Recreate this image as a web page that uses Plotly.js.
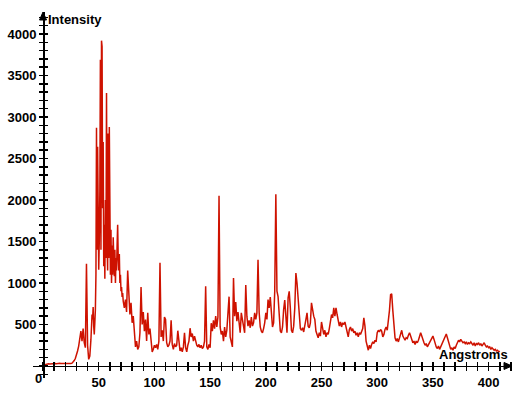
<!DOCTYPE html>
<html>
<head>
<meta charset="utf-8">
<script src="https://cdn.plot.ly/plotly-3.0.1.min.js"></script>
<style>
html,body{margin:0;padding:0;background:#fff;}
#chart{width:527px;height:395px;}
</style>
</head>
<body>
<div id="chart"></div>
<script>
// Intensity readings, segment 1: 0..44 Å, step 1
var lowStart = 0, lowStep = 1;
var intensityLow = [
  10,15,20,22,25,26,24,27,25,28,
  27,30,28,31,29,32,30,29,28,27,
  26,25,24,26,28,30,34,48,65,90,
  130,180,240,330,420,300,450,280,220,1230,
  250,80,120,320,620
];
// Segment 2: 44.5..72 Å, step 0.5 (dense main peak)
var peakStart = 44.5, peakStep = 0.5;
var intensityPeak = [
  560,710,480,380,520,680,1100,2870,1400,2640,
  1900,1160,1500,2100,3690,1400,3920,3850,1900,2700,
  1200,1700,1050,2000,1300,3290,1500,1150,2800,1300,
  2880,1400,1100,1640,1000,1450,1100,1550,1250,1080,
  1400,1000,1300,1150,1450,1700,1300,1150,1350,1000,
  1100,900,950,830,880,780
];
// Segment 3: 73..410 Å, step 1
var highStart = 73, highStep = 1;
var intensityHigh = [
  700,800,650,1150,750,620,760,520,600,350,
  230,300,200,230,400,950,500,650,420,560,
  300,640,380,450,280,170,200,250,220,260,
  200,300,1245,350,430,300,590,560,280,230,
  250,300,550,260,200,270,230,250,425,250,
  180,220,170,230,400,220,170,250,300,455,
  350,390,300,360,280,250,230,260,220,250,
  210,230,300,960,230,200,260,220,515,420,
  550,450,600,470,590,2050,470,380,420,300,
  470,350,430,600,835,350,270,230,1060,600,
  770,540,650,480,400,640,550,450,400,975,
  600,480,550,460,590,480,520,640,560,640,
  1280,650,470,420,400,450,520,640,560,800,
  700,830,590,470,520,900,2070,900,835,550,
  420,400,470,680,795,600,400,820,900,700,
  430,400,480,700,1120,1000,835,600,450,430,
  460,410,470,560,640,480,460,520,760,640,
  600,560,420,380,340,400,360,530,420,380,
  430,350,400,380,450,520,620,580,700,600,
  700,620,550,480,530,470,520,500,530,460,
  420,350,440,470,420,450,400,420,370,400,
  350,400,380,420,450,580,480,300,220,190,
  250,210,260,290,270,310,290,400,430,410,
  440,420,350,380,440,470,430,520,670,860,
  870,670,470,340,300,330,290,340,380,430,
  360,330,310,340,330,370,400,360,320,280,
  300,260,300,280,310,350,400,360,300,280,
  250,270,230,260,280,300,330,360,320,260,
  230,210,240,200,230,250,280,310,350,385,
  340,280,240,200,220,190,230,210,250,280,
  310,290,320,300,280,290,270,290,260,280,
  270,290,260,250,280,240,270,260,280,250,
  270,240,260,280,250,230,240,220,230,200,
  220,210,190,200,180,190,170,180
];
var xTickVals = [50,100,150,200,250,300,350,400];
var yTickVals = [500,1000,1500,2000,2500,3000,3500,4000];
var xTitle = 'Angstroms';
var yTitle = 'Intensity';
var originLabel = '0';

var angstroms = [], intensity = [];
function addSeg(start, step, vals){
  for (var i=0;i<vals.length;i++){ angstroms.push(start + i*step); intensity.push(vals[i]); }
}
addSeg(lowStart, lowStep, intensityLow);
addSeg(peakStart, peakStep, intensityPeak);
addSeg(highStart, highStep, intensityHigh);

var xRange = [-9, 421];
var yRange = [-145, 4265];
var x0frac = (0 - xRange[0])/(xRange[1]-xRange[0]);
var y0frac = (0 - yRange[0])/(yRange[1]-yRange[0]);

var tickFont = {family:'Liberation Sans, Arial, sans-serif', size:13, color:'#000', weight:'bold'};

var traces = [
  {x: angstroms, y: intensity, type:'scatter', mode:'lines',
   line:{color:'rgb(206,18,0)', width:1.5}, hoverinfo:'skip', xaxis:'x', yaxis:'y'},
  {x: [], y: [], type:'scatter', mode:'lines', xaxis:'x2', yaxis:'y2', showlegend:false}
];

var baseX = {range:xRange, anchor:'free', position:y0frac, showgrid:false, zeroline:false,
  tickmode:'array', tickvals:xTickVals, ticklen:4, tickwidth:1.5, tickcolor:'#000'};
var baseY = {range:yRange, anchor:'free', position:x0frac, showgrid:false, zeroline:false,
  tickmode:'array', tickvals:yTickVals, ticklen:4, tickwidth:1.5, tickcolor:'#000'};

var layout = {
  width:527, height:395,
  margin:{l:33, r:15, t:12, b:17},
  paper_bgcolor:'#fff', plot_bgcolor:'#fff',
  showlegend:false,
  xaxis: Object.assign({}, baseX, {
    ticks:'outside', showline:true, linecolor:'#000', linewidth:1.5,
    tickfont:tickFont, showticklabels:true,
    minor:{ticks:'outside', tick0:0, dtick:10, ticklen:4, tickwidth:1.5, tickcolor:'#000', showgrid:false}
  }),
  xaxis2: Object.assign({}, baseX, {
    overlaying:'x', ticks:'inside', showline:false, showticklabels:false,
    minor:{ticks:'inside', tick0:0, dtick:10, ticklen:4, tickwidth:1.5, tickcolor:'#000', showgrid:false}
  }),
  yaxis: Object.assign({}, baseY, {
    ticks:'outside', showline:true, linecolor:'#000', linewidth:1.5,
    tickfont:tickFont, showticklabels:true,
    minor:{ticks:'outside', tick0:0, dtick:100, ticklen:4, tickwidth:1.5, tickcolor:'#000', showgrid:false}
  }),
  yaxis2: Object.assign({}, baseY, {
    overlaying:'y', ticks:'inside', showline:false, showticklabels:false,
    minor:{ticks:'inside', tick0:0, dtick:100, ticklen:4, tickwidth:1.5, tickcolor:'#000', showgrid:false}
  }),
  shapes:[
    {type:'path', xref:'paper', yref:'paper', xsizemode:'pixel', ysizemode:'pixel',
     xanchor:x0frac, yanchor:1, path:'M -3.5 -8 L 3.5 -8 L 0 0 Z',
     fillcolor:'#000', line:{color:'#000', width:1}},
    {type:'path', xref:'paper', yref:'paper', xsizemode:'pixel', ysizemode:'pixel',
     xanchor:1, yanchor:y0frac, path:'M -8 -3.5 L -8 3.5 L 0 0 Z',
     fillcolor:'#000', line:{color:'#000', width:1}}
  ],
  annotations:[
    {text:yTitle, xref:'x', yref:'paper', x:0, y:1, xanchor:'left', yanchor:'middle',
     xshift:3, yshift:-7, showarrow:false, font:tickFont},
    {text:xTitle, xref:'paper', yref:'y', x:1, y:0, xanchor:'right', yanchor:'bottom',
     xshift:-2, yshift:2, showarrow:false, font:tickFont},
    {text:originLabel, xref:'x', yref:'y', x:0, y:0, xanchor:'right', yanchor:'top',
     xshift:1, yshift:-3, showarrow:false, font:tickFont}
  ]
};

Plotly.newPlot('chart', traces, layout, {staticPlot:true, displayModeBar:false});
</script>
</body>
</html>
